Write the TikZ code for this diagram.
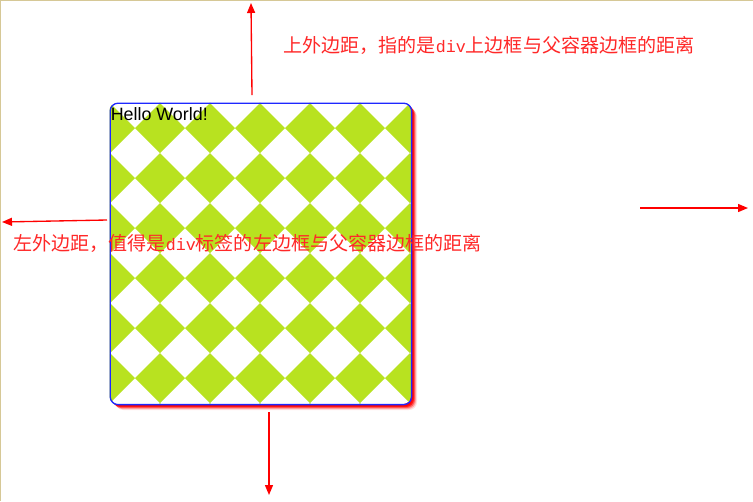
\documentclass[tikz,border=0pt]{standalone}
\usepackage{fontspec}
\setmainfont{Liberation Sans}
\newfontfamily\cjk{Noto Sans CJK SC}
\newfontfamily\monof{Liberation Mono}
\usetikzlibrary{arrows.meta}
\definecolor{leaf}{RGB}{184,226,32}
\definecolor{pageedge}{RGB}{214,200,150}
\definecolor{edgeblue}{RGB}{30,40,255}
\definecolor{txtred}{RGB}{255,40,40}
\tikzset{
  arr/.style={draw=red, line width=1pt, -{Triangle[length=7.5pt,width=6pt]}},
  lbl/.style={inner sep=0pt, text=txtred, font=\cjk\fontsize{14.3}{17}\selectfont},
  divbox/.style={draw=edgeblue, line width=1pt, rounded corners=6pt, minimum width=226.1pt, minimum height=226.1pt, inner sep=0pt, anchor=north west},
  shadowbox/.style={fill=red, rounded corners=6pt}
}
\begin{document}
\begin{tikzpicture}[x=0.75pt,y=-0.75pt]
\useasboundingbox (0,0) rectangle (753,501);
\fill[white] (0,0) rectangle (753,501);
\draw[pageedge, line width=1.1pt] (0.7,501) -- (0.7,0.7) -- (753,0.7);
% shadow
\foreach \d/\op in {6/0.12,5/0.25,4/0.45,3/0.75,2/1}
  \fill[shadowbox, opacity=\op] (109.5+\d,102.5+\d) rectangle (411+\d,404+\d);
% pattern, clipped to the div
\begin{scope}
  \clip[rounded corners=6pt] (109.5,102.5) rectangle (411,404);
  \fill[white] (109.5,102.5) rectangle (411,404);
  \foreach \m in {0,...,6}{
    \foreach \n in {-1,...,6}{
      \pgfmathsetmacro\cx{110+50*\m}
      \pgfmathsetmacro\cy{128+50*\n}
      \fill[leaf] (\cx,\cy-25) -- (\cx+25,\cy) -- (\cx,\cy+25) -- (\cx-25,\cy) -- cycle;
    }
  }
\end{scope}
\node[divbox] (box) at (109.5,102.5) {};
\node[anchor=north west, inner sep=0pt, font=\fontsize{13.4}{15}\selectfont] (hello) at (110.5,107.5) {Hello World!};
% arrows
\coordinate (topA) at (252,95);
\coordinate (topB) at (251,3);
\coordinate (leftA) at (107,220);
\coordinate (leftB) at (2,222);
\coordinate (rightA) at (640,208);
\coordinate (rightB) at (748,208);
\coordinate (botA) at (269,412);
\coordinate (botB) at (269,495);
\draw[arr] (topA) -- (topB);
\draw[arr] (leftA) -- (leftB);
\draw[arr] (rightA) -- (rightB);
\draw[arr] (botA) -- (botB);
% labels
\node[lbl, anchor=west] (toptxt) at (283,45.5) {上外边距，指的是{\monof\fontsize{12.5}{15}\selectfont div}上边框与父容器边框的距离};
\node[lbl, anchor=west] (lefttxt) at (13,243) {左外边距，值得是{\monof\fontsize{12.5}{15}\selectfont div}标签的左边框与父容器边框的距离};
\end{tikzpicture}
\end{document}
